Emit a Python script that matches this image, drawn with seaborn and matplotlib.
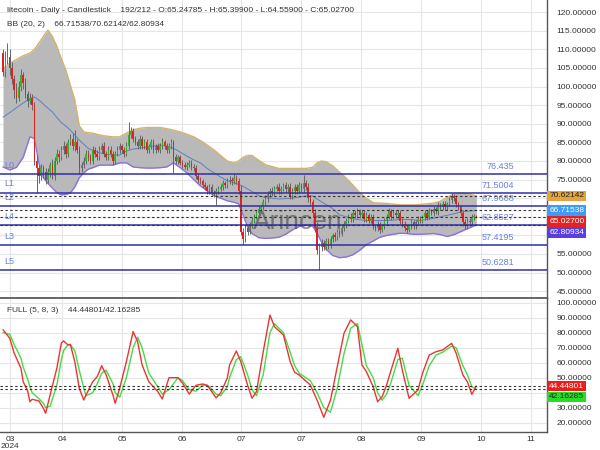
import numpy as np
import pandas as pd
import matplotlib
matplotlib.use("Agg")
import matplotlib.pyplot as plt
import seaborn as sns

# ---------------- data ----------------
closes = [
    104, 107, 108, 105, 102, 99, 97, 100, 103, 101,
    98, 96, 97, 95, 80, 78, 76, 78, 77, 75,
    77, 79, 76, 80, 82, 81, 83, 84, 82, 85,
    86, 84, 85, 83, 78, 79, 80, 82, 81, 80,
    83, 82, 81, 83, 84, 82, 81, 83, 82, 80,
    82, 83, 84, 83, 82, 84, 87, 88, 86, 85,
    84, 86, 84, 85, 83, 84, 85, 83, 84, 83,
    84, 85, 84, 83, 84, 85, 81, 80, 81, 79.5,
    79, 78.5, 79, 79.5, 78.5, 78, 76, 75, 74.5, 73.5,
    73, 72, 73, 71.5, 71, 72, 72.5, 73, 74, 73.5,
    74.5, 75, 74.5, 75.5, 74.5, 72, 61, 59, 62, 61,
    63, 64, 65, 66, 67, 67.5, 69, 70, 71, 72,
    71.5, 72.5, 73, 72, 72.5, 73.5, 72.5, 73, 70.5, 72,
    73, 72, 73.5, 72.5, 74, 73, 70, 69, 66, 62,
    56, 57, 58, 57, 58.5, 57.5, 59, 60, 59.5, 61,
    60.5, 62, 63, 64, 65, 64.5, 66, 65.5, 66.5, 65.5,
    66, 64.5, 65.5, 64, 65, 62.5, 62, 63, 61.5, 62.5,
    64, 65, 66.5, 65, 66, 65.5, 66, 64, 63, 62,
    61.5, 62.5, 63.5, 62.5, 63.5, 64.5, 64, 65, 66, 65,
    66.5, 66, 67, 66.5, 68, 67.5, 68.5, 67.5, 68.5, 69.5,
    70.5, 70, 68.5, 67.5, 66, 63.5, 62.5, 64, 63.5, 65,
    65.24785, 65.027,
]
first_open = 109.0
up_wick = [
    1.0, 2.5, 3.8, 2.0, 1.5, 1.2, 2.0, 1.5, 1.8, 1.0, 1.4, 0.8, 1.2, 1.0, 0.8, 1.5, 1.0, 1.2, 0.8, 1.0,
    1.2, 0.8, 1.5, 1.0, 1.2, 0.9, 1.0, 1.4, 0.8, 1.0, 1.2, 1.5, 3.3, 0.8, 1.0, 0.8, 1.2, 0.9, 1.0, 0.8,
    1.0, 0.7, 0.9, 1.1, 0.8, 1.0, 0.6, 0.9, 1.0, 0.7, 0.8, 1.0, 0.9, 0.7, 0.8, 1.0, 3.5, 1.2, 1.0, 0.8,
    0.9, 1.0, 0.7, 0.8, 0.9, 0.7, 1.0, 0.8, 0.6, 0.9, 0.8, 1.2, 0.7, 0.8, 0.9, 0.8, 0.6, 0.8, 0.7, 0.6,
    0.8, 0.7, 0.6, 0.9, 0.7, 0.6, 0.8, 0.7, 0.6, 0.7, 0.8, 0.6, 0.9, 0.7, 0.6, 0.8, 0.7, 0.9, 0.8, 0.7,
    0.8, 0.9, 0.7, 1.0, 0.8, 0.9, 1.5, 1.0, 0.9, 0.8, 0.7, 0.9, 0.8, 0.7, 0.9, 0.8, 0.7, 0.9, 1.0, 0.8,
    0.9, 0.7, 0.8, 1.0, 0.8, 0.7, 0.9, 0.8, 1.0, 0.8, 0.7, 0.9, 0.8, 0.7, 2.2, 0.9, 1.0, 0.8, 0.9, 1.2,
    1.5, 1.0, 0.9, 0.8, 0.7, 0.9, 0.8, 0.7, 0.9, 0.8, 0.7, 0.8, 0.9, 0.7, 0.8, 0.9, 0.7, 0.8, 0.9, 0.7,
    0.8, 0.7, 0.9, 0.6, 0.8, 0.7, 0.6, 0.8, 0.7, 0.6, 0.8, 0.7, 0.9, 0.6, 0.8, 0.7, 0.8, 0.7, 0.6, 0.8,
    0.7, 0.6, 0.8, 0.7, 0.6, 0.8, 0.7, 0.6, 0.8, 0.7, 0.9, 0.6, 0.8, 0.7, 0.9, 0.6, 0.8, 0.7, 0.6, 0.8,
    0.9, 0.7, 0.8, 0.6, 0.8, 0.7, 0.9, 0.6, 0.8, 0.7, 0.6, 0.15,
]
down_wick = [
    1.2, 1.5, 1.0, 1.8, 1.4, 2.0, 1.5, 1.0, 1.2, 1.6, 1.0, 1.4, 0.8, 1.2, 1.0, 6.5, 2.0, 1.0, 1.5, 1.2,
    1.0, 1.2, 0.8, 1.0, 0.9, 1.2, 0.8, 1.0, 1.2, 0.9, 0.8, 1.0, 1.2, 0.8, 1.5, 1.0, 0.8, 0.9, 1.0, 0.8,
    0.9, 1.0, 0.8, 0.7, 0.9, 1.0, 0.8, 0.7, 0.9, 1.0, 0.8, 0.7, 0.9, 0.8, 1.0, 0.7, 0.8, 0.9, 1.0, 0.8,
    0.7, 0.9, 0.8, 0.7, 0.9, 0.8, 0.7, 0.9, 0.8, 0.7, 0.8, 0.9, 0.7, 0.8, 0.9, 0.7, 4.2, 0.9, 0.8, 0.7,
    0.8, 0.7, 0.9, 0.6, 0.8, 0.7, 0.9, 0.8, 0.7, 0.8, 0.7, 0.9, 0.8, 0.7, 0.8, 2.8, 0.8, 0.7, 0.9, 0.8,
    0.7, 0.8, 0.9, 0.7, 0.8, 0.9, 1.0, 1.6, 0.9, 0.8, 0.7, 0.9, 0.8, 0.7, 0.8, 0.9, 0.7, 0.8, 0.9, 0.7,
    0.8, 0.9, 0.7, 0.8, 0.9, 0.7, 0.8, 0.9, 0.8, 0.7, 0.9, 0.8, 0.7, 0.9, 0.8, 0.7, 0.9, 0.8, 1.0, 1.2,
    1.0, 5.4, 1.2, 1.0, 0.9, 1.1, 0.8, 0.9, 1.0, 0.8, 0.9, 0.7, 0.8, 0.9, 0.7, 0.8, 0.9, 0.7, 0.8, 0.9,
    0.7, 0.8, 0.9, 0.7, 0.8, 0.9, 0.7, 0.8, 0.9, 0.7, 0.8, 0.9, 0.7, 0.8, 0.6, 0.8, 0.7, 0.9, 0.8, 0.7,
    0.8, 0.7, 0.9, 0.8, 0.7, 0.6, 0.8, 0.7, 0.9, 0.8, 0.7, 0.6, 0.8, 0.7, 0.9, 0.8, 0.7, 0.6, 0.8, 0.7,
    0.7, 0.8, 0.9, 0.7, 0.8, 0.9, 0.7, 0.8, 0.9, 0.7, 0.8, 0.47,
]

bb_bars = [0, 3, 6, 9, 12, 14, 16, 18, 20, 22, 24, 26, 28, 30, 32, 34, 36, 38, 40, 43, 46, 49, 52, 55,
           58, 61, 64, 67, 70, 73, 76, 79, 82, 85, 88, 91, 94, 97, 100, 103, 105, 107, 109, 111, 114,
           117, 120, 123, 126, 129, 132, 135, 138, 140, 142, 144, 147, 150, 153, 156, 159, 162, 165,
           168, 171, 174, 177, 180, 183, 186, 189, 192, 195, 198, 201, 204, 207, 209, 211]
bb_upper = [104.8, 106.3, 107.3, 108.3, 109, 110, 111.7, 113.5, 115.2, 113.5, 110.8, 107.5, 104.4,
            100.4, 96.4, 89.5, 87.8, 87.6, 87.5, 87, 86.7, 86.5, 86.5, 87.5, 88.4, 88.8, 89, 89, 89,
            88.7, 88.3, 87.8, 87.2, 86.5, 85.5, 84.3, 83, 81.5, 80, 79.5, 80, 81, 81.5, 81.5, 80.2,
            79, 78.5, 78, 78, 78, 78, 78, 78.3, 79.5, 80, 79.8, 78.7, 77, 75.4, 73.5, 71.5, 70, 68.8,
            68.7, 68.6, 68.4, 68.2, 68.2, 68.2, 68.3, 68.5, 68.7, 69.2, 70.2, 71.2, 71.4, 71.2, 70.9,
            70.62142]
bb_mid = [91.8, 93, 94.3, 95.6, 96.8, 97.2, 96.4, 95.3, 94.2, 93.2, 91.7, 90.3, 89.4, 88.3, 87, 85.6,
          84.5, 83.4, 82.9, 82.2, 81.8, 81.6, 81.6, 82.7, 83.2, 83.5, 83.7, 84, 84.3, 84, 83.4, 82.4,
          81.3, 80.3, 79.5, 78, 76.8, 75.7, 74.7, 74.1, 73.7, 73.2, 72.5, 71.8, 70.7, 70.1, 70, 69.8,
          69.9, 70, 70.3, 70.6, 70.6, 69.8, 69, 68.3, 67.2, 65.5, 65, 64.5, 64.2, 64, 64, 64, 64, 64.1,
          64.3, 64.3, 64.2, 64, 64.3, 64.6, 65, 65.4, 65.8, 66.3, 66.5, 66.6, 66.71538]
bb_lower = [78.4, 77.6, 78.3, 81, 86.5, 86, 79.5, 75.5, 74, 72.7, 71.5, 70.9, 71, 71.4, 73, 75.5, 76.8,
            77.8, 78.2, 78.9, 78.9, 78.9, 79.5, 79.5, 78.4, 78.2, 78.1, 78.1, 78.2, 78.4, 79.5, 78.2,
            76.8, 75, 73.3, 72, 70.7, 70, 69.3, 68.9, 68.5, 65.5, 62.3, 60.5, 59.4, 59.2, 59.3, 59.5,
            60.3, 61.5, 62.4, 62.7, 62.5, 60.6, 58.2, 56.3, 54.6, 54, 54.2, 54.8, 56, 57.5, 58.5, 59.5,
            60, 60.3, 60.6, 60.5, 60.3, 60.3, 60.4, 60.5, 60.2, 59.7, 60.2, 61, 61.8, 62.3, 62.80934]

stoch_bars = [0, 3, 5, 8, 9, 11, 12, 13, 16, 18, 19, 21, 24, 26, 27, 29, 30, 32, 34, 36, 37, 40, 42,
              44, 46, 49, 50, 52, 55, 58, 60, 62, 65, 69, 71, 74, 78, 80, 83, 86, 89, 91, 92, 95, 97,
              100, 101, 104, 106, 109, 111, 113, 116, 119, 121, 125, 128, 130, 132, 137, 140, 143, 146,
              149, 152, 155, 158, 160, 162, 165, 167, 169, 171, 173, 176, 178, 181, 185, 187, 190, 193,
              196, 200, 202, 205, 207, 209, 211]
stoch_k = [82, 76.3, 66.3, 56.3, 47.3, 41.1, 34, 35.6, 34.5, 29.6, 26.3, 38.5, 56.3, 73, 74.5, 71.8,
           72.2, 60.7, 42.9, 35.1, 38.5, 47.3, 50.7, 58, 51.8, 38.5, 32.9, 42.9, 60.7, 80.7, 74, 58.5,
           47.3, 40.7, 35.8, 50, 50, 46.5, 39.1, 44.9, 45.8, 44.9, 43, 36.5, 39.8, 49.8, 58.5, 67.8,
           60.7, 45.1, 36.3, 40.7, 67.3, 91.8, 84, 78.5, 60.7, 53.6, 51.8, 45.1, 35.1, 23.6, 35.1, 57.3,
           79.6, 88.5, 84, 58.5, 54, 44, 34, 37.3, 45.1, 55.1, 69.6, 55.1, 36.3, 41.8, 52.9, 65.1, 67.3,
           68.5, 72.9, 66.3, 51.8, 47.3, 38.9, 44.44801]
stoch_d = [80, 79, 72, 63, 57, 49, 44, 40, 36, 33, 30, 31, 45, 62, 68, 72, 72, 68, 55, 43, 38, 40, 46,
           53, 55, 46, 40, 37, 50, 70, 77, 70, 53, 44, 39, 42, 50, 48, 42, 41, 45, 45, 44, 39, 38, 44,
           50, 62, 64, 52, 42, 38, 52, 80, 86, 80, 67, 58, 53, 48, 40, 30, 27, 43, 66, 83, 86, 72, 58,
           50, 40, 35, 39, 47, 62, 63, 45, 38, 45, 58, 65, 67, 71, 70, 58, 52, 44, 42.16285]

level_names = ["L0", "L1", "L2", "L4", "L3", "L5"]
level_values = [76.435, 71.5004, 67.9688, 62.8527, 57.4195, 50.6281]
level_texts = ["76.435", "71.5004", "67.9688", "62.8527", "57.4195", "50.6281"]

month_ticks = [3.1, 26.3, 53.1, 79.8, 106.1, 132.9, 159.6, 186.4, 213.1, 235.4]
month_labels = ["03", "04", "05", "06", "07", "07", "08", "09", "10", "11"]

price_ticks = [45, 50, 55, 60, 65, 70, 75, 80, 85, 90, 95, 100, 105, 110, 115, 120]
price_ticks_hidden = [60, 65, 70]          # covered by the value tags
stoch_ticks = [20, 30, 40, 50, 60, 70, 80, 90, 100]
stoch_ticks_hidden = [40]

bb_now = [66.71538, 70.62142, 62.80934]   # mid / upper / lower
last_ohlc = [65.24785, 65.39900, 64.55900, 65.02700]
stoch_now = [44.44801, 42.16285]

# ---------------- style ----------------
sns.set_theme(style="white")
plt.rcParams["font.family"] = ["Liberation Sans", "DejaVu Sans"]
TXT = "#333333"
GRID = "#e6e6e6"

fig = plt.figure(figsize=(6, 4.5), dpi=100)
ax1 = fig.add_axes([0.0, 1 - 298 / 450, 547 / 600, 298 / 450])
ax2 = fig.add_axes([0.0, 1 - 432 / 450, 547 / 600, 134 / 450])

n = len(closes)
bars = np.arange(n)
opens = [first_open] + closes[:-1]
df = pd.DataFrame({"bar": bars, "open": opens, "close": closes})
df["high"] = df[["open", "close"]].max(axis=1) + np.array(up_wick)
df["low"] = df[["open", "close"]].min(axis=1) - np.array(down_wick)
df.loc[n - 1, "high"] = last_ohlc[1]
df.loc[n - 1, "low"] = last_ohlc[2]

xlim = (-1.34, 242.5)
for ax in (ax1, ax2):
    ax.set_xlim(*xlim)
    ax.set_facecolor("white")
    for s in ("left", "top"):
        ax.spines[s].set_visible(False)
    ax.spines["right"].set_color("#555555")
    ax.spines["bottom"].set_color("#555555")
    ax.spines["right"].set_linewidth(1.0)
    ax.spines["bottom"].set_linewidth(1.0)
    ax.yaxis.tick_right()
    ax.tick_params(axis="y", length=0, pad=7, labelsize=6, labelcolor=TXT)
    ax.tick_params(axis="x", length=0, pad=3, labelsize=6, labelcolor=TXT)
    ax.set_xticks(month_ticks)
    for t in month_ticks:
        ax.axvline(t, color=GRID, lw=0.8, zorder=0)
    ax.set_xlabel("")
    ax.set_ylabel("")

# ---------- price panel ----------
ax1.set_ylim(43.17, 123.28)
ax1.set_yticks(price_ticks)
ax1.set_yticklabels(["" if v in price_ticks_hidden else f"{v:.5f}" for v in price_ticks])
ax1.set_xticklabels([])
for v in price_ticks:
    ax1.axhline(v, color=GRID, lw=0.8, zorder=0)

ax1.fill_between(bb_bars, bb_lower, bb_upper, color="#b9b9b9", zorder=1, lw=0)
sns.lineplot(x=bb_bars, y=bb_upper, ax=ax1, color="#d6b36a", lw=1.0, estimator=None, sort=False, zorder=2)
sns.lineplot(x=bb_bars, y=bb_lower, ax=ax1, color="#8a70e6", lw=1.0, estimator=None, sort=False, zorder=2)
sns.lineplot(x=bb_bars, y=bb_mid, ax=ax1, color="#5f7fc0", lw=0.7, estimator=None, sort=False, zorder=2)

ax1.text(0.545, 0.255, "Arincen", transform=ax1.transAxes, fontsize=19, color="#444444",
         alpha=0.6, ha="center", va="center", zorder=2.5)

up = df["close"] >= df["open"]
ax1.vlines(df["bar"], df["low"], df["high"], color="#666666", lw=0.7, zorder=3)
body_bottom = df[["open", "close"]].min(axis=1)
body_h = (df["close"] - df["open"]).abs().clip(lower=0.25)
ax1.bar(df["bar"][up], body_h[up], bottom=body_bottom[up], width=0.65, color="#34b334", lw=0, zorder=4)
ax1.bar(df["bar"][~up], body_h[~up], bottom=body_bottom[~up], width=0.65, color="#dd2222", lw=0, zorder=4)

for name, val, txt in zip(level_names, level_values, level_texts):
    ax1.axhline(val, color="#2f2fa8", lw=1.1, zorder=5)
    ax1.annotate(name, xy=(0.008, val), xycoords=ax1.get_yaxis_transform(),
                 xytext=(0, 3), textcoords="offset points", fontsize=6.5,
                 color="#6b7fe0", ha="left", va="bottom", zorder=6)
    ax1.annotate(txt, xy=(514 / 547, val), xycoords=ax1.get_yaxis_transform(),
                 xytext=(0, 2), textcoords="offset points", fontsize=6.5,
                 color="#6b7fe0", ha="right", va="bottom", zorder=6)

for val in [bb_now[1], bb_now[0], last_ohlc[3], bb_now[2]]:
    ax1.axhline(val, color="#333333", lw=0.8, ls=(0, (2.2, 2.2)), zorder=5)

def tags(ax, items, gap):
    prev = None
    for val, text, fc, tc in items:
        y = val if prev is None else min(val, prev - gap)
        ax.text(1.004, y, text, transform=ax.get_yaxis_transform(), ha="left", va="center",
                fontsize=6, color=tc, clip_on=False, zorder=10,
                bbox=dict(boxstyle="square,pad=0.22", fc=fc, ec="none"))
        prev = y

tags(ax1, [(bb_now[1], f"{bb_now[1]:.5f}", "#e3a33e", "#222222"),
           (bb_now[0], f"{bb_now[0]:.5f}", "#3d9cf5", "white"),
           (last_ohlc[3], f"{last_ohlc[3]:.5f}", "#e52222", "white"),
           (bb_now[2], f"{bb_now[2]:.5f}", "#5a3fe0", "white")], 2.96)

fig.text(7 / 600, 1 - 10 / 450,
         "litecoin - Daily - Candlestick    192/212 - O:%.5f - H:%.5f - L:%.5f - C:%.5f" % tuple(last_ohlc),
         fontsize=6, color=TXT, va="center", ha="left")
fig.text(7 / 600, 1 - 25 / 450,
         "BB (20, 2)    %.5f/%.5f/%.5f" % tuple(bb_now),
         fontsize=6, color=TXT, va="center", ha="left")

# ---------- stochastic panel ----------
ax2.set_ylim(13.8, 103.1)
ax2.set_yticks(stoch_ticks)
ax2.set_yticklabels(["" if v in stoch_ticks_hidden else f"{v:.5f}" for v in stoch_ticks])
ax2.set_xticklabels(month_labels)
for v in stoch_ticks:
    ax2.axhline(v, color=GRID, lw=0.8, zorder=0)
ax2.spines["top"].set_visible(True)
ax2.spines["top"].set_color("#555555")

sns.lineplot(x=stoch_bars, y=stoch_d, ax=ax2, color="#44dd44", lw=1.0, estimator=None, sort=False, zorder=3)
sns.lineplot(x=stoch_bars, y=stoch_k, ax=ax2, color="#ee3333", lw=1.0, estimator=None, sort=False, zorder=4)
for val in stoch_now:
    ax2.axhline(val, color="#333333", lw=0.8, ls=(0, (2.2, 2.2)), zorder=5)

tags(ax2, [(stoch_now[0], f"{stoch_now[0]:.5f}", "#ee1c1c", "white"),
           (stoch_now[1], f"{stoch_now[1]:.5f}", "#26dd26", "#222222")], 7.3)

fig.text(7 / 600, 1 - 311 / 450, "FULL (5, 8, 3)    %.5f/%.5f" % tuple(stoch_now),
         fontsize=6, color=TXT, va="center", ha="left")
fig.text(10 / 600, 1 - 447 / 450, "2024", fontsize=6, color=TXT, va="center", ha="center")

fig.savefig("out.png", dpi=100)
